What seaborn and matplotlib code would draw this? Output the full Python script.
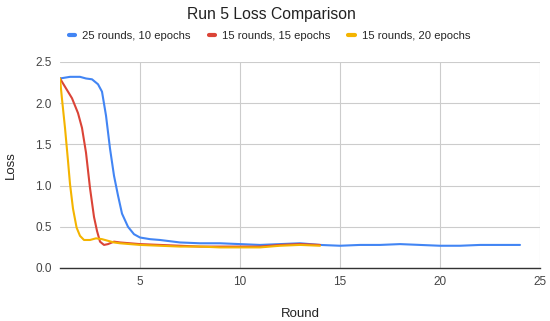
import pandas as pd
import matplotlib
matplotlib.use("Agg")
import matplotlib.pyplot as plt
import seaborn as sns

# ──────────────────────────────────────────────
# Data
# ──────────────────────────────────────────────

blue_round = [1, 1.5, 2, 2.3, 2.6, 2.9, 3.1, 3.3, 3.5, 3.7, 3.9, 4.1, 4.4, 4.7, 5,
              5.5, 6, 7, 8, 9, 10, 11, 12, 13, 14, 15, 16, 17, 18, 19, 20, 21, 22, 23, 24]
blue_loss = [2.30, 2.32, 2.32, 2.30, 2.29, 2.23, 2.14, 1.85, 1.45, 1.12, 0.88, 0.66, 0.50, 0.41, 0.37,
             0.35, 0.34, 0.31, 0.30, 0.30, 0.29, 0.28, 0.29, 0.30, 0.28, 0.27, 0.28, 0.28, 0.29, 0.28,
             0.27, 0.27, 0.28, 0.28, 0.28]

red_round = [1, 1.3, 1.6, 1.9, 2.1, 2.3, 2.5, 2.7, 2.85, 3.0, 3.2, 3.4, 3.7, 4, 4.5, 5,
             6, 7, 8, 9, 10, 11, 12, 13, 14]
red_loss = [2.30, 2.18, 2.06, 1.88, 1.70, 1.40, 0.97, 0.62, 0.45, 0.32, 0.28, 0.29, 0.32, 0.31, 0.30, 0.29,
            0.28, 0.27, 0.26, 0.26, 0.26, 0.26, 0.28, 0.29, 0.28]

yellow_round = [1, 1.1, 1.25, 1.4, 1.5, 1.65, 1.83, 2.0, 2.2, 2.5, 2.8, 3.1, 3.4, 3.7, 4, 5,
                6, 7, 8, 9, 10, 11, 12, 13, 14]
yellow_loss = [2.30, 2.05, 1.70, 1.30, 1.02, 0.72, 0.49, 0.39, 0.34, 0.34, 0.36, 0.35, 0.33, 0.31, 0.30, 0.28,
               0.27, 0.26, 0.26, 0.25, 0.25, 0.25, 0.27, 0.28, 0.27]

run_labels = ["25 rounds, 10 epochs", "15 rounds, 15 epochs", "15 rounds, 20 epochs"]
run_colors = ["#4285F4", "#DB4437", "#F4B400"]
x_ticks = [5, 10, 15, 20, 25]
y_ticks = [0.0, 0.5, 1.0, 1.5, 2.0, 2.5]

# ──────────────────────────────────────────────
# Long-form table for seaborn
# ──────────────────────────────────────────────

frames = []
for label, xs, ys in zip(run_labels,
                         [blue_round, red_round, yellow_round],
                         [blue_loss, red_loss, yellow_loss]):
    frames.append(pd.DataFrame({"Round": xs, "Loss": ys, "Run": label}))
df = pd.concat(frames, ignore_index=True)

sns.set_theme(style="whitegrid")
plt.rcParams["font.family"] = ["Liberation Sans", "DejaVu Sans"]

fig, ax = plt.subplots(figsize=(5.5, 3.21), dpi=100)
fig.subplots_adjust(left=60 / 550, right=540 / 550, top=1 - 62 / 321, bottom=1 - 268 / 321)

sns.lineplot(data=df, x="Round", y="Loss", hue="Run", hue_order=run_labels,
             palette=run_colors, linewidth=1.5, ax=ax, legend=False)

ax.set_xlim(1, 25)
ax.set_ylim(0, 2.5)
ax.set_xticks(x_ticks)
ax.set_yticks(y_ticks)
ax.set_yticklabels([f"{v:.1f}" for v in y_ticks])
ax.tick_params(axis="both", labelsize=8.5, colors="#444444", length=0, pad=6)
ax.grid(True, color="#cccccc", linewidth=0.8)
for side in ["top", "right", "left"]:
    ax.spines[side].set_visible(False)
ax.spines["bottom"].set_color("#333333")
ax.spines["bottom"].set_linewidth(1.0)

ax.set_xlabel("Round", fontsize=9.5, color="#222222", labelpad=14)
ax.set_ylabel("Loss", fontsize=9.5, color="#222222", labelpad=13)

fig.text(0.493, 1 - 15 / 321, "Run 5 Loss Comparison", ha="center", va="center",
         fontsize=11.3, color="#222222")

handles = [plt.Line2D([], [], color=c, linewidth=3) for c in run_colors]
fig.legend(handles, run_labels, loc="center", bbox_to_anchor=(0.49, 1 - 36 / 321), ncol=3,
           frameon=False, fontsize=8.1, handlelength=0.6, handletextpad=0.6, columnspacing=1.6)

fig.savefig("out.png", dpi=100)
